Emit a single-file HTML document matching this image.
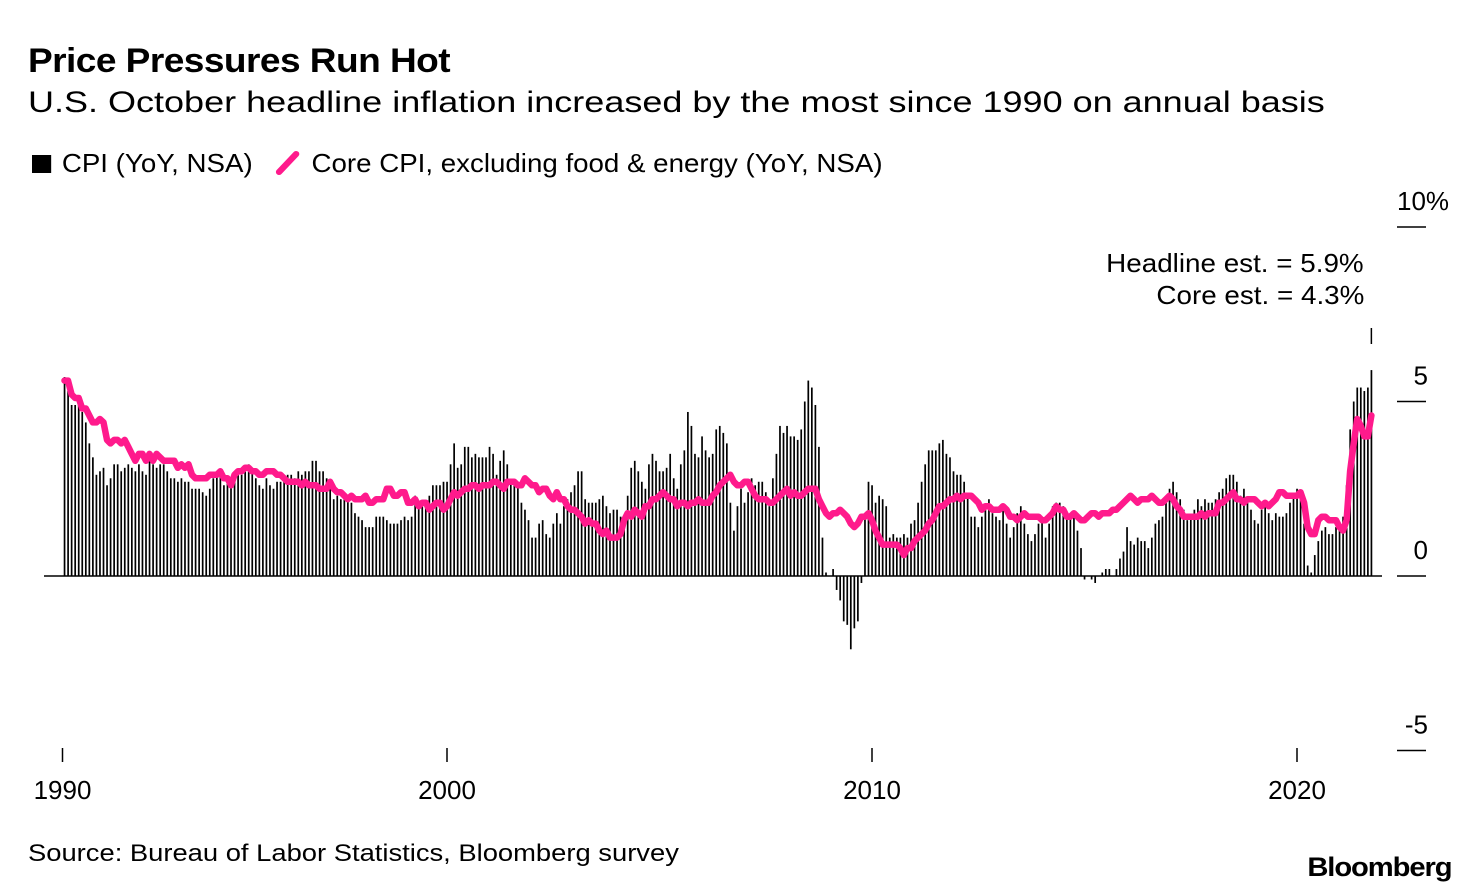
<!DOCTYPE html>
<html><head><meta charset="utf-8">
<style>
body{margin:0;background:#fff;font-family:"Liberation Sans",sans-serif;color:#000}
#wrap{position:relative;width:1480px;height:894px;overflow:hidden}
.t{position:absolute;white-space:nowrap}
</style></head><body>
<div id="wrap">
<div class="t" style="left:28px;top:42px;font-size:34px;font-weight:bold;letter-spacing:-0.5px;transform:scaleX(1.09);transform-origin:left">Price Pressures Run Hot</div>
<div class="t" style="left:28px;top:86px;font-size:30px;transform:scaleX(1.2);transform-origin:left">U.S. October headline inflation increased by the most since 1990 on annual basis</div>
<div class="t" style="left:32px;top:148px;font-size:26px;transform:scaleX(1.065);transform-origin:left">
<span><span style="display:inline-block;width:18px;height:18px;background:#000;margin-right:10px;vertical-align:-1px"></span>CPI (YoY, NSA)</span>
<span style="margin-left:14px"><svg width="26" height="26" style="vertical-align:-4px;margin-right:8px"><line x1="4" y1="22" x2="20" y2="4" stroke="#ff1a8c" stroke-width="6" stroke-linecap="round"/></svg>Core CPI, excluding food &amp; energy (YoY, NSA)</span></div>
<div class="t" style="right:116px;top:248px;font-size:26px;transform:scaleX(1.07);transform-origin:right">Headline est. = 5.9%</div>
<div class="t" style="right:116px;top:280px;font-size:26px;transform:scaleX(1.07);transform-origin:right">Core est. = 4.3%</div>
<div class="t" style="left:28px;top:840px;font-size:24px;transform:scaleX(1.14);transform-origin:left">Source: Bureau of Labor Statistics, Bloomberg survey</div>
<div class="t" style="right:28px;top:852px;font-size:27px;font-weight:bold;letter-spacing:-1px;transform:scaleX(1.08);transform-origin:right">Bloomberg</div>
<svg id="chart" width="1480" height="894" style="position:absolute;left:0;top:0"></svg>
</div>
<script>
const startYear = 1991;
const cpi = [
5.7,5.3,4.9,4.9,5.0,4.7,4.4,3.8,3.4,2.9,3.0,3.1,
2.6,2.8,3.2,3.2,3.0,3.1,3.2,3.1,3.0,3.2,3.0,2.9,
3.3,3.2,3.1,3.2,3.2,3.0,2.8,2.8,2.7,2.8,2.7,2.7,
2.5,2.5,2.5,2.4,2.3,2.5,2.8,2.9,3.0,2.6,2.7,2.7,
2.8,2.9,2.9,3.1,3.2,3.0,2.8,2.6,2.5,2.8,2.6,2.5,
2.7,2.7,2.8,2.9,2.9,2.8,3.0,2.9,3.0,3.0,3.3,3.3,
3.0,3.0,2.8,2.5,2.2,2.3,2.2,2.2,2.2,2.1,1.8,1.7,
1.6,1.4,1.4,1.4,1.7,1.7,1.7,1.6,1.5,1.5,1.5,1.6,
1.7,1.6,1.7,2.3,2.1,2.0,2.1,2.3,2.6,2.6,2.6,2.7,
2.7,3.2,3.8,3.1,3.2,3.7,3.7,3.4,3.5,3.4,3.4,3.4,
3.7,3.5,2.9,3.3,3.6,3.2,2.7,2.7,2.6,2.1,1.9,1.6,
1.1,1.1,1.5,1.6,1.2,1.1,1.5,1.8,1.5,2.0,2.2,2.4,
2.6,3.0,3.0,2.2,2.1,2.1,2.1,2.2,2.3,2.0,1.8,1.9,
1.9,1.7,1.7,2.3,3.1,3.3,3.0,2.7,2.5,3.2,3.5,3.3,
3.0,3.0,3.1,3.5,2.8,2.5,3.2,3.6,4.7,4.3,3.5,3.4,
4.0,3.6,3.4,3.5,4.2,4.3,4.1,3.8,2.1,1.3,2.0,2.5,
2.1,2.4,2.8,2.6,2.7,2.7,2.4,2.0,2.8,3.5,4.3,4.1,
4.3,4.0,4.0,3.9,4.2,5.0,5.6,5.4,4.9,3.7,1.1,0.1,
0.0,0.2,-0.4,-0.7,-1.3,-1.4,-2.1,-1.5,-1.3,-0.2,1.8,2.7,
2.6,2.1,2.3,2.2,2.0,1.1,1.2,1.1,1.1,1.2,1.1,1.5,
1.6,2.1,2.7,3.2,3.6,3.6,3.6,3.8,3.9,3.5,3.4,3.0,
2.9,2.9,2.7,2.3,1.7,1.7,1.4,1.7,2.0,2.2,1.8,1.7,
1.6,2.0,1.5,1.1,1.4,1.8,2.0,1.5,1.2,1.0,1.2,1.5,
1.6,1.1,1.5,2.0,2.1,2.1,2.0,1.7,1.7,1.7,1.3,0.8,
-0.1,0.0,-0.1,-0.2,0.0,0.1,0.2,0.2,0.0,0.2,0.5,0.7,
1.4,1.0,0.9,1.1,1.0,1.0,0.8,1.1,1.5,1.6,1.7,2.1,
2.5,2.7,2.4,2.2,1.9,1.6,1.7,1.9,2.2,2.0,2.2,2.1,
2.1,2.2,2.4,2.5,2.8,2.9,2.9,2.7,2.3,2.5,2.2,1.9,
1.6,1.5,1.9,2.0,1.8,1.6,1.8,1.7,1.7,1.8,2.1,2.3,
2.5,2.3,1.5,0.3,0.1,0.6,1.0,1.3,1.4,1.2,1.2,1.4,
1.4,1.7,2.6,4.2,5.0,5.4,5.4,5.3,5.4,5.9];
const core = [
5.6,5.6,5.2,5.1,5.1,4.8,4.8,4.6,4.4,4.4,4.5,4.4,
3.9,3.8,3.9,3.9,3.8,3.9,3.7,3.5,3.3,3.5,3.5,3.3,
3.5,3.3,3.5,3.4,3.3,3.3,3.3,3.3,3.1,3.2,3.1,3.2,
2.9,2.8,2.8,2.8,2.8,2.9,2.9,2.9,3.0,2.8,2.8,2.6,
2.9,3.0,3.0,3.1,3.1,3.0,3.0,2.9,2.9,3.0,3.0,3.0,
2.9,2.9,2.8,2.7,2.7,2.7,2.7,2.6,2.7,2.6,2.6,2.6,
2.5,2.5,2.5,2.7,2.5,2.4,2.4,2.3,2.2,2.3,2.2,2.2,
2.2,2.3,2.1,2.1,2.2,2.2,2.2,2.5,2.5,2.3,2.3,2.4,
2.4,2.1,2.1,2.2,2.0,2.1,2.1,1.9,2.0,2.1,2.1,1.9,
2.0,2.2,2.4,2.3,2.4,2.5,2.5,2.6,2.6,2.5,2.6,2.6,
2.6,2.7,2.7,2.6,2.5,2.7,2.7,2.7,2.6,2.6,2.8,2.7,
2.6,2.6,2.4,2.5,2.5,2.3,2.2,2.4,2.2,2.2,2.0,1.9,
1.9,1.8,1.7,1.5,1.6,1.5,1.5,1.3,1.2,1.3,1.1,1.1,
1.1,1.2,1.6,1.8,1.7,1.9,1.8,1.7,2.0,2.0,2.2,2.2,
2.3,2.4,2.3,2.2,2.2,2.0,2.1,2.1,2.0,2.1,2.1,2.2,
2.1,2.1,2.1,2.3,2.4,2.6,2.7,2.8,2.9,2.7,2.6,2.6,
2.7,2.7,2.5,2.3,2.2,2.2,2.2,2.1,2.1,2.2,2.3,2.4,
2.5,2.3,2.4,2.3,2.3,2.4,2.5,2.5,2.5,2.2,2.0,1.8,
1.7,1.8,1.8,1.9,1.8,1.7,1.5,1.4,1.5,1.7,1.7,1.8,
1.6,1.3,1.1,0.9,0.9,0.9,0.9,0.9,0.8,0.6,0.8,0.8,
1.0,1.1,1.2,1.3,1.5,1.6,1.8,2.0,2.0,2.1,2.2,2.2,
2.3,2.2,2.3,2.3,2.3,2.2,2.1,1.9,2.0,2.0,1.9,1.9,
1.9,2.0,1.9,1.7,1.7,1.6,1.7,1.8,1.7,1.7,1.7,1.7,
1.6,1.6,1.7,1.8,2.0,1.9,1.9,1.7,1.7,1.8,1.7,1.6,
1.6,1.7,1.8,1.8,1.7,1.8,1.8,1.8,1.9,1.9,2.0,2.1,
2.2,2.3,2.2,2.1,2.2,2.2,2.2,2.3,2.2,2.1,2.1,2.2,
2.3,2.2,2.0,1.9,1.7,1.7,1.7,1.7,1.7,1.8,1.7,1.8,
1.8,1.8,2.1,2.1,2.2,2.3,2.4,2.2,2.2,2.1,2.2,2.2,
2.2,2.1,2.0,2.1,2.0,2.1,2.2,2.4,2.4,2.3,2.3,2.3,
2.3,2.4,2.1,1.4,1.2,1.2,1.6,1.7,1.7,1.6,1.6,1.6,
1.4,1.3,1.6,3.0,3.8,4.5,4.3,4.0,4.0,4.6];
const yTicks = [10, 5, 0, -5];
const yTickLabels = ["10%", "5", "0", "-5"];
const xTickYears = [2000, 2010, 2020];
const xTickLabels = ["1990", "2000", "2010", "2020"];

const NS = "http://www.w3.org/2000/svg";
const svg = document.getElementById("chart");
function y(v){ return 576 - v * 34.9; }
function xm(i){ return 872 + ((startYear - 2010) + i / 12) * 42.5; }
function xy(yr){ return 872 + (yr - 2010) * 42.5; }
function mk(tag, attrs){ const e = document.createElementNS(NS, tag); for (const k in attrs) e.setAttribute(k, attrs[k]); svg.appendChild(e); return e; }

cpi.forEach((v, i) => {
  const top = Math.min(y(v), y(0)), h = Math.abs(y(v) - y(0));
  const r = mk("rect", {x: xm(i) - 0.8, y: top, width: 1.7, height: Math.max(h, 0.5), fill: "#000"});
  
  
});
const base = mk("line", {x1: 44, x2: 1382, y1: y(0), y2: y(0), stroke: "#000", "stroke-width": 1.5});



const pts = core.map((v, i) => xm(i).toFixed(1) + "," + y(v).toFixed(1)).join(" ");
const line = mk("polyline", {points: pts, fill: "none", stroke: "#ff1a8c", "stroke-width": 6.5, "stroke-linejoin": "round", "stroke-linecap": "round"});



const est = mk("line", {x1: xm(cpi.length - 1), x2: xm(cpi.length - 1), y1: 328, y2: 344, stroke: "#000", "stroke-width": 1.5});



yTicks.forEach((v, i) => {
  const t = mk("line", {x1: 1397, x2: 1426, y1: y(v), y2: y(v), stroke: "#000", "stroke-width": 1.5});
  
  
  const lbl = yTickLabels[i];
  const tx = mk("text", {x: lbl.endsWith("%") ? 1397 : 1428, y: y(v) - 17, "font-size": 26, "text-anchor": lbl.endsWith("%") ? "start" : "end", "font-family": "Liberation Sans, sans-serif"});
  tx.textContent = lbl;
  
  
});

const xPos = [xm(0) - 2].concat(xTickYears.map(xy));
xPos.forEach((px, i) => {
  const t = mk("line", {x1: px, x2: px, y1: 748, y2: 762, stroke: "#000", "stroke-width": 1.5});
  
  
  const tx = mk("text", {x: px, y: 799, "font-size": 26, "text-anchor": "middle", "font-family": "Liberation Sans, sans-serif"});
  tx.textContent = xTickLabels[i];
  
  
});
</script>
</body></html>
